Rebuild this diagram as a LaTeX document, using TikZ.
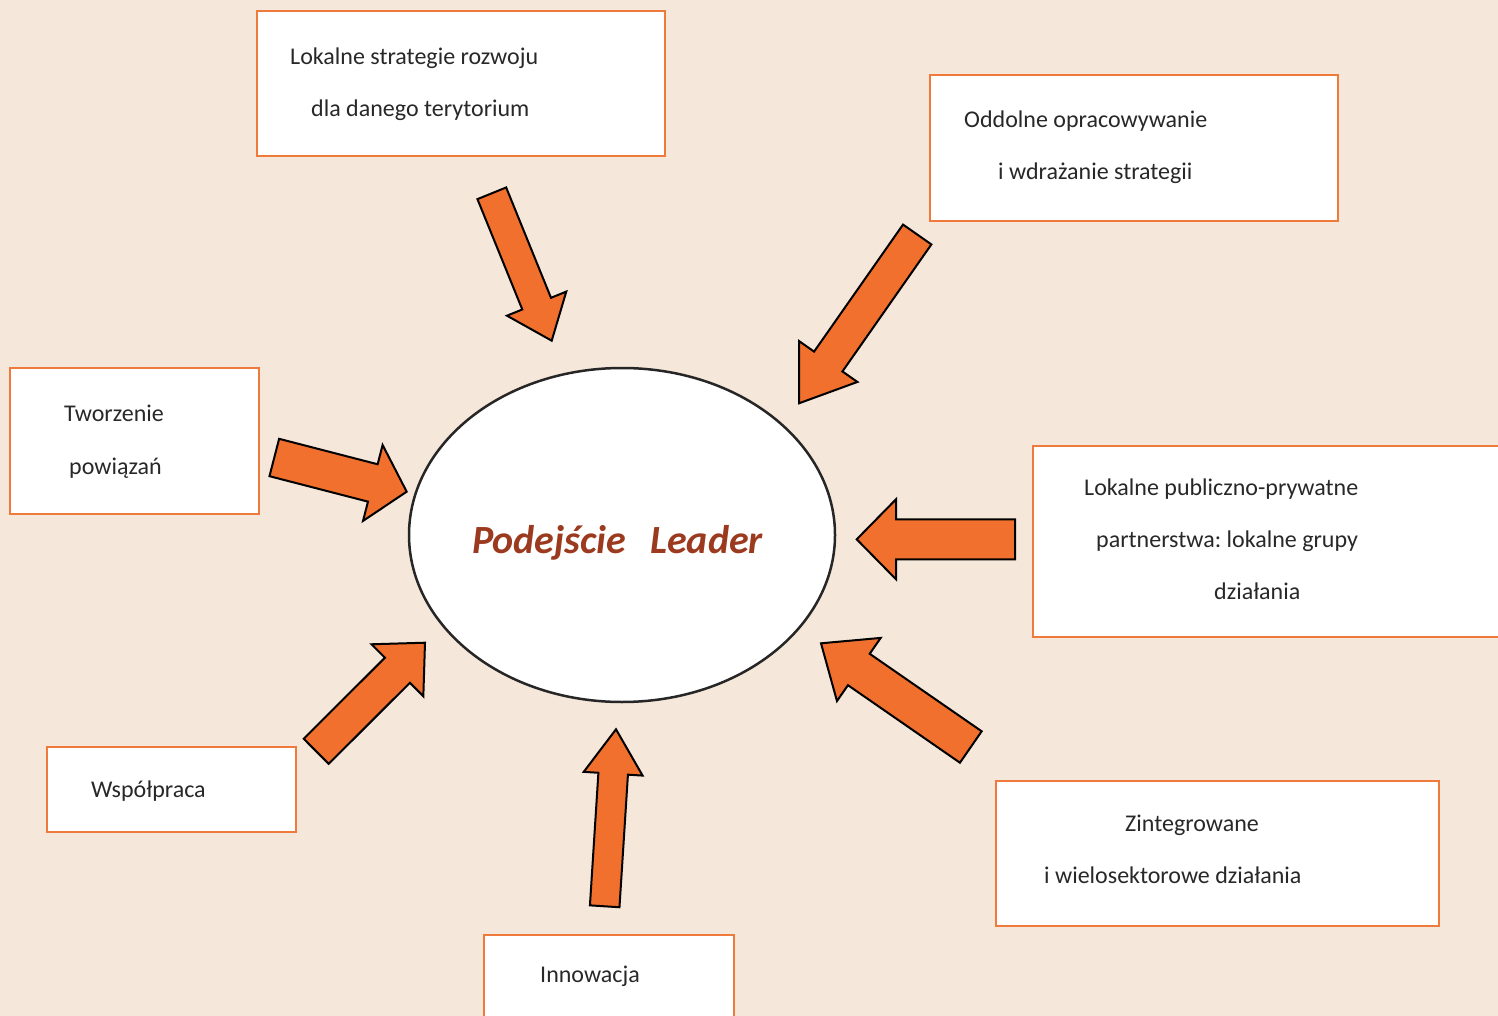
\documentclass[tikz,border=0pt]{standalone}
\usepackage{fontspec}
\setmainfont{Carlito}
\frenchspacing
\usetikzlibrary{calc,shapes.geometric}
\definecolor{bg}{RGB}{245,231,217}
\definecolor{arrowfill}{RGB}{241,112,45}
\definecolor{boxline}{RGB}{240,122,60}
\definecolor{titlecol}{RGB}{155,58,30}
\definecolor{txt}{RGB}{40,40,40}
\tikzset{
 box/.style={draw=boxline, line width=2.2pt, fill=white, anchor=north west, inner sep=0pt},
 blockarr/.style={draw=black, line width=2pt, fill=arrowfill, line join=miter},
 lbl/.style={anchor=base west, inner sep=0pt, font=\fontsize{24}{28}\selectfont, text=txt},
}
\newcommand{\blockarrow}[5]{%
 \coordinate (hb) at ($(#2)!#5!(#1)$);
 \filldraw[blockarr] ($(#1)!#3!90:(#2)$) -- ($(hb)!#3!90:(#2)$) -- ($(hb)!#4!90:(#2)$) -- (#2) -- ($(hb)!#4!-90:(#2)$) -- ($(hb)!#3!-90:(#2)$) -- ($(#1)!#3!-90:(#2)$) -- cycle;
}
\begin{document}
\begin{tikzpicture}[x=1pt,y=-1pt]
\useasboundingbox (0,0) rectangle (1498,1016);
\clip (0,0) rectangle (1498,1016);
\fill[bg] (0,0) rectangle (1498,1016);

% boxes
\node[box, minimum width=408pt, minimum height=145pt] (b1) at (256,10) {};
\node[box, minimum width=408pt, minimum height=146pt] (b2) at (929,74) {};
\node[box, minimum width=249pt, minimum height=146pt] (b3) at (9,367) {};
\node[box, minimum width=480pt, minimum height=191pt] (b4) at (1032,445) {};
\node[box, minimum width=443pt, minimum height=145pt] (b5) at (995,780) {};
\node[box, minimum width=249pt, minimum height=85pt] (b6) at (46,746) {};
\node[box, minimum width=250pt, minimum height=100pt] (b7) at (483,934) {};

% texts
\node[lbl] (t1a) at (290,65) {Lokalne strategie rozwoju};
\node[lbl] (t1b) at (311,117) {dla danego terytorium};
\node[lbl] (t2a) at (964,128) {Oddolne opracowywanie};
\node[lbl] (t2b) at (998,180) {i wdrażanie strategii};
\node[lbl] (t3a) at (64,421) {Tworzenie};
\node[lbl] (t3b) at (69,474) {powiązań};
\node[lbl] (t4a) at (1084,495) {Lokalne publiczno-prywatne};
\node[lbl] (t4b) at (1096,547) {partnerstwa: lokalne grupy};
\node[lbl] (t4c) at (1214,599) {działania};
\node[lbl] (t5a) at (1125,831) {Zintegrowane};
\node[lbl] (t5b) at (1044,883) {i wielosektorowe działania};
\node[lbl] (t6) at (91,797) {Współpraca};
\node[lbl] (t7) at (540,982) {Innowacja};

% central ellipse
\node[ellipse, draw=black!85, line width=2.5pt, fill=white, minimum width=426pt, minimum height=334pt, inner sep=0pt] (c) at (622,535) {};
\node[anchor=base, inner sep=0pt, font=\fontsize{40}{46}\selectfont\bfseries\itshape, text=titlecol] (title) at (617.5,553) {Podejście\hspace{0.6em}Leader};

% block arrows
\coordinate (a1s) at (491.8,193.3); \coordinate (a1e) at (551.7,340.7);
\coordinate (a2s) at (917.2,234.5); \coordinate (a2e) at (799,403.3);
\coordinate (a3s) at (274.3,457.5); \coordinate (a3e) at (406.7,491.7);
\coordinate (a4s) at (1015,539.3); \coordinate (a4e) at (856.7,539.3);
\coordinate (a5s) at (970.8,747); \coordinate (a5e) at (821,643.3);
\coordinate (a6s) at (316.2,751.3); \coordinate (a6e) at (425,642.7);
\coordinate (a7s) at (604.7,906.3); \coordinate (a7e) at (616,729.3);
\blockarrow{a1s}{a1e}{15.5pt}{32pt}{40pt}
\blockarrow{a2s}{a2e}{17.3pt}{35.6pt}{51pt}
\blockarrow{a3s}{a3e}{19.3pt}{39.2pt}{35pt}
\blockarrow{a4s}{a4e}{20pt}{40pt}{39.3pt}
\blockarrow{a5s}{a5e}{19.1pt}{38.4pt}{46pt}
\blockarrow{a6s}{a6e}{17.7pt}{36.7pt}{39pt}
\blockarrow{a7s}{a7e}{14.8pt}{29.5pt}{44.5pt}
\end{tikzpicture}
\end{document}
